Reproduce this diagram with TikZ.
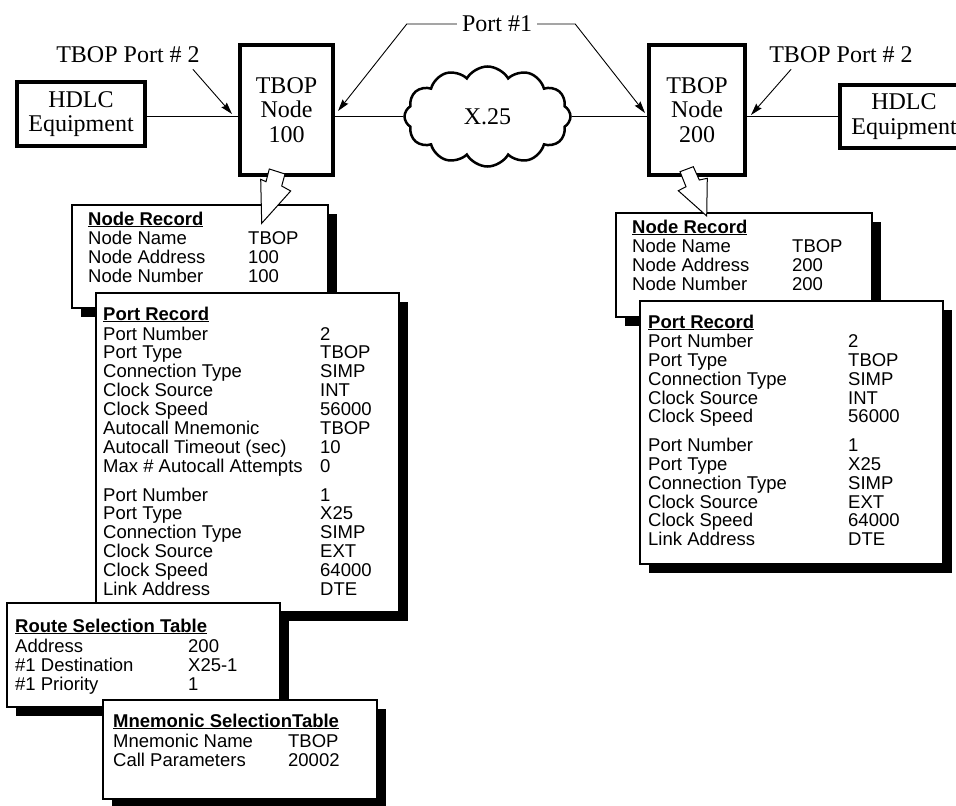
\documentclass[tikz,border=0pt]{standalone}
\usepackage{fontspec}
\setmainfont{Liberation Serif}
\setsansfont{Liberation Sans}
\usetikzlibrary{shapes.symbols, shadows, arrows.meta}

% underlined bold heading of a record
\newcommand{\rtitle}[1]{\setbox0=\hbox{\bfseries #1}\rlap{\rule[-2.4pt]{\wd0}{1.5pt}}\box0}

\begin{document}
\begin{tikzpicture}[x=1pt, y=-1pt,
    every node/.style={font=\fontsize{24}{24.5}\selectfont, inner sep=0pt},
    thickbox/.style={draw, line width=4pt, rectangle, align=center},
    link/.style={line width=1.5pt},
    callout/.style={line width=0.9pt, -{Stealth[length=12pt, width=7pt, inset=1.5pt]}},
    record/.style={draw, line width=1.5pt, fill=white, rectangle, anchor=north west, outer sep=0pt,
      drop shadow={shadow xshift=9pt, shadow yshift=-9pt, opacity=1, fill=black}},
    rtext/.style={font=\sffamily\fontsize{18.5}{18.3}\selectfont, anchor=base west},
    bolt/.style={draw, line width=1pt, fill=white, line join=miter}]
    \useasboundingbox (0,0) rectangle (956,806);

    % ---------- Network: equipment, nodes, X.25 ----------
    \node[thickbox, minimum width=128, minimum height=64] (hdlcA) at (81,114) {HDLC\\Equipment};
    \node[thickbox, minimum width=93, minimum height=130] (nodeA) at (286.5,110) {TBOP\\Node\\100};
    \node[cloud, draw, line width=2.5pt, cloud puffs=12, cloud puff arc=120, cloud ignores aspect,
      minimum width=166, minimum height=100] (x25) at (487.5,116.5) {X.25};
    \node[thickbox, minimum width=96, minimum height=130] (nodeB) at (697,110) {TBOP\\Node\\200};
    \node[thickbox, minimum width=128, minimum height=63] (hdlcB) at (904,116.5) {HDLC\\Equipment};

    \draw[link] (hdlcA.east |- x25.west) -- (nodeA.west |- x25.west);
    \draw[link] (nodeA.east |- x25.west) -- (x25.west);
    \draw[link] (x25.east) -- (nodeB.west |- x25.east);
    \draw[link] (nodeB.east |- x25.east) -- (hdlcB.west |- x25.east);

    % port labels
    \node (portA) at (128,55) {TBOP Port \# 2};
    \coordinate (portAtip) at (232,114);
    \draw[callout] ([shift={(-7,6)}]portA.south east) -- (portAtip);

    \node (portB) at (841,55) {TBOP Port \# 2};
    \coordinate (portBtip) at (751,115);
    \draw[callout] ([shift={(22,6)}]portB.south west) -- (portBtip);

    \node (port1) at (497,24) {Port \#1};
    \coordinate (p1tipA) at (338,111);
    \coordinate (p1tipB) at (645,113);
    \draw[callout] ([xshift=-5pt]port1.west) -- ++(-50,0) -- (p1tipA);
    \draw[callout] ([xshift=5pt]port1.east) -- ++(38,0) -- (p1tipB);

    % ---------- Records of node 100 ----------
    \node[record, minimum width=256, minimum height=103] (noderecA) at (72,205) {};
    \node[rtext] (noderecAtxt) at (88,225) {\begin{tabular}[t]{@{}p{160pt}@{}l@{}}
      \multicolumn{2}{@{}l@{}}{\rtitle{Node Record}}\\[1pt]
      Node Name & TBOP\\
      Node Address & 100\\
      Node Number & 100
    \end{tabular}};

    \node[record, minimum width=303, minimum height=319] (portrecA) at (96,293) {};
    \node[rtext] (portrecAtxt) at (103,320) {\begin{tabular}[t]{@{}p{217pt}@{}l@{}}
      \multicolumn{2}{@{}l@{}}{\rtitle{Port Record}}\\[1.5pt]
      Port Number & 2\\
      Port Type & TBOP\\
      Connection Type & SIMP\\
      Clock Source & INT\\
      Clock Speed & 56000\\
      Autocall Mnemonic & TBOP\\
      Autocall Timeout (sec) & 10\\
      Max \# Autocall Attempts & 0\\[10.5pt]
      Port Number & 1\\
      Port Type & X25\\
      Connection Type & SIMP\\
      Clock Source & EXT\\
      Clock Speed & 64000\\
      Link Address & DTE
    \end{tabular}};

    \node[record, minimum width=273, minimum height=104] (routeA) at (7,603) {};
    \node[rtext] (routeAtxt) at (15,632) {\begin{tabular}[t]{@{}p{173pt}@{}l@{}}
      \multicolumn{2}{@{}l@{}}{\rtitle{Route Selection Table}}\\[1.5pt]
      Address & 200\\
      \#1 Destination & X25-1\\
      \#1 Priority & 1
    \end{tabular}};

    \node[record, minimum width=274, minimum height=99] (mnemA) at (103,700) {};
    \node[rtext] (mnemAtxt) at (113,727) {\begin{tabular}[t]{@{}p{175pt}@{}l@{}}
      \multicolumn{2}{@{}l@{}}{\rtitle{Mnemonic SelectionTable}}\\[1.5pt]
      Mnemonic Name & TBOP\\
      Call Parameters & 20002
    \end{tabular}};

    % ---------- Records of node 200 ----------
    \node[record, minimum width=256, minimum height=104] (noderecB) at (616,213) {};
    \node[rtext] (noderecBtxt) at (632,233) {\begin{tabular}[t]{@{}p{160pt}@{}l@{}}
      \multicolumn{2}{@{}l@{}}{\rtitle{Node Record}}\\[1pt]
      Node Name & TBOP\\
      Node Address & 200\\
      Node Number & 200
    \end{tabular}};

    \node[record, minimum width=303, minimum height=263] (portrecB) at (640,301) {};
    \node[rtext] (portrecBtxt) at (648,328) {\begin{tabular}[t]{@{}p{200pt}@{}l@{}}
      \multicolumn{2}{@{}l@{}}{\rtitle{Port Record}}\\[1pt]
      Port Number & 2\\
      Port Type & TBOP\\
      Connection Type & SIMP\\
      Clock Source & INT\\
      Clock Speed & 56000\\[10pt]
      Port Number & 1\\
      Port Type & X25\\
      Connection Type & SIMP\\
      Clock Source & EXT\\
      Clock Speed & 64000\\
      Link Address & DTE
    \end{tabular}};

    % hollow arrows from the nodes to their records
    \draw[bolt] (269.3,169) -- (285,174) -- (281.7,186) -- (290.7,191) -- (261.7,223.3)
      -- (260.7,179.3) -- (266,181.7) -- cycle;
    \draw[bolt] (680,171.7) -- (693.3,166.7) -- (699.3,180) -- (707.3,178.3) -- (706.7,216)
      -- (678.3,190.7) -- (686,186.7) -- cycle;
  \end{tikzpicture}
\end{document}
